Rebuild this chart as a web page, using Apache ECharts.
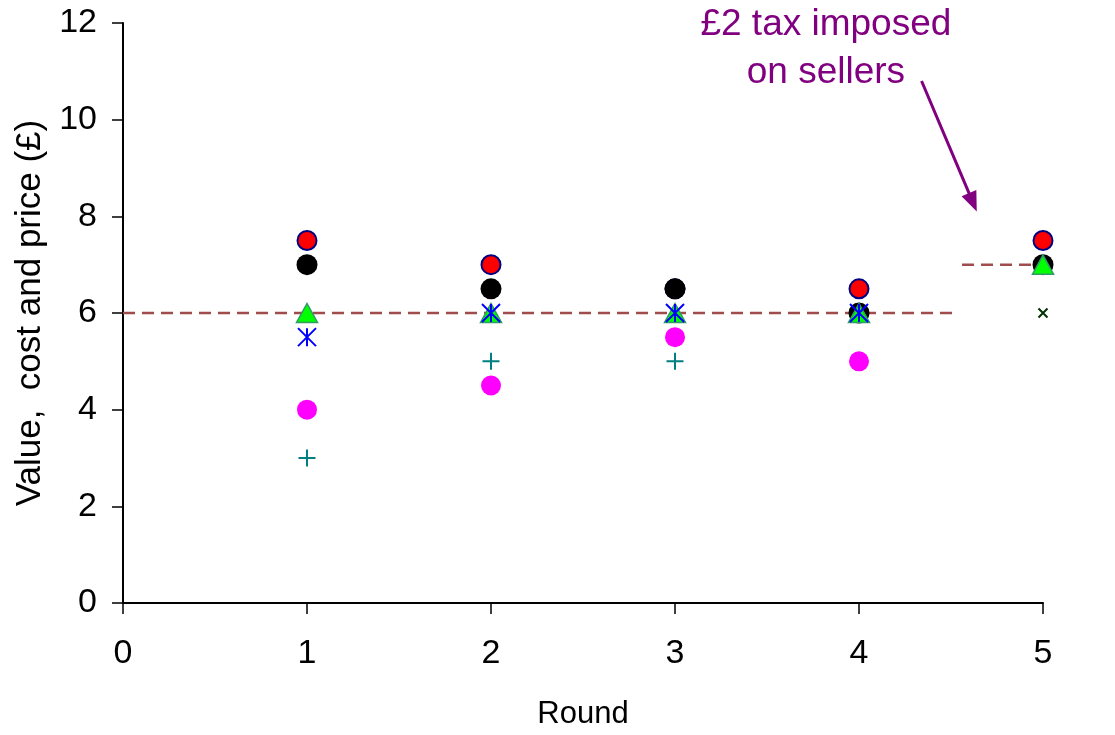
<!DOCTYPE html>
<html>
<head>
<meta charset="utf-8">
<script src="https://cdn.jsdelivr.net/npm/echarts@6/dist/echarts.min.js"></script>
<style>html,body{margin:0;padding:0;background:#fff;}#chart{width:1115px;height:735px;}</style>
</head>
<body>
<div id="chart"></div>
<script>
var rounds = [1, 2, 3, 4, 5];
var redValues = [7.5, 7.0, 6.5, 6.5, 7.5];
var blackValues = [7.0, 6.5, 6.5, 6.0, 7.0];
var magentaValues = [4.0, 4.5, 5.5, 5.0, null];
var triangleValues = [6.0, 6.0, 6.0, 6.0, 7.0];
var starValues = [5.5, 6.0, 6.0, 6.0, null];
var plusValues = [3.0, 5.0, 5.0, null, null];
var crossValues = [null, null, null, null, 6.0];
var priceLine1 = [[0, 6], [4.52, 6]];
var priceLine2 = [[4.56, 7], [5.34, 7]];
var arrowFrom = [4.34, 10.8];
var arrowTo = [4.64, 8.1];
var noteAt = [3.82, 12.45];
var noteText = '£2 tax imposed\non sellers';
var yTicks = [0, 2, 4, 6, 8, 10, 12];

function pts(vals) {
  return rounds.map(function (r, i) { return vals[i] == null ? null : [r, vals[i]]; }).filter(Boolean);
}
var FONT = 'Liberation Sans, Arial, sans-serif';
var chart = echarts.init(document.getElementById('chart'));
var option = {
  animation: false,
  grid: { left: 123, right: 72, top: 23, bottom: 129 },
  xAxis: {
    type: 'value', min: 0, max: 5, interval: 1,
    name: 'Round', nameLocation: 'middle', nameGap: 96,
    nameTextStyle: { fontFamily: FONT, fontSize: 31, color: '#000' },
    axisLine: { show: true, lineStyle: { color: '#000', width: 2 } },
    axisTick: { show: true, length: 11, lineStyle: { color: '#000', width: 1.5 } },
    axisLabel: { fontFamily: FONT, fontSize: 34, color: '#000', margin: 34 },
    splitLine: { show: false }
  },
  yAxis: {
    type: 'value', min: 0, max: 12, interval: 2,
    name: 'Value,  cost and price (£)', nameLocation: 'middle', nameGap: 72, nameRotate: 90,
    nameTextStyle: { fontFamily: FONT, fontSize: 35, color: '#000' },
    axisLine: { show: true, lineStyle: { color: '#000', width: 2 } },
    axisTick: { show: true, length: 11, lineStyle: { color: '#000', width: 1.5 } },
    axisLabel: { fontFamily: FONT, fontSize: 34, color: '#000', margin: 26,
      formatter: function (v) { return yTicks.indexOf(v) >= 0 ? String(v) : ''; } },
    splitLine: { show: false }
  },
  series: [
    { type: 'line', data: priceLine1, symbol: 'none', lineStyle: { color: '#A04C4C', width: 2.5, type: [12, 7] }, z: 1 },
    { type: 'line', data: priceLine2, symbol: 'none', clip: false, lineStyle: { color: '#A04C4C', width: 2.5, type: [12, 7] }, z: 1 },
    { type: 'scatter', data: pts(redValues), symbol: 'circle', symbolSize: 19,
      itemStyle: { color: '#FF0000', borderColor: '#000080', borderWidth: 2, opacity: 1 }, z: 2 },
    { type: 'scatter', data: pts(blackValues), symbol: 'circle', symbolSize: 21,
      itemStyle: { color: '#000000', opacity: 1 }, z: 3 },
    { type: 'scatter', data: pts(magentaValues), symbol: 'circle', symbolSize: 20,
      itemStyle: { color: '#FF00FF', opacity: 1 }, z: 3 },
    { type: 'scatter', data: pts(triangleValues), symbol: 'triangle', symbolSize: [21, 19],
      itemStyle: { color: '#00FF00', borderColor: '#339966', borderWidth: 1.5, opacity: 1 }, z: 4 },
    { type: 'scatter', data: pts(starValues), symbol: 'path://M0,0L10,10M10,0L0,10M5,0L5,10', symbolSize: 18,
      itemStyle: { color: 'none', borderColor: '#0000FF', borderWidth: 2, opacity: 1 }, z: 5 },
    { type: 'scatter', data: pts(plusValues), symbol: 'path://M0,5L10,5M5,0L5,10', symbolSize: 17,
      itemStyle: { color: 'none', borderColor: '#008080', borderWidth: 2, opacity: 1 }, z: 5 },
    { type: 'scatter', data: pts(crossValues), symbol: 'path://M0,0L10,10M10,0L0,10', symbolSize: 9,
      itemStyle: { color: 'none', borderColor: '#003300', borderWidth: 2, opacity: 1 }, z: 5 }
  ]
};
chart.setOption(option);

var a = chart.convertToPixel({ gridIndex: 0 }, arrowFrom);
var b = chart.convertToPixel({ gridIndex: 0 }, arrowTo);
var n = chart.convertToPixel({ gridIndex: 0 }, noteAt);
var dx = b[0] - a[0], dy = b[1] - a[1];
var len = Math.sqrt(dx * dx + dy * dy);
var ux = dx / len, uy = dy / len;
var headLen = 20, headW = 8;
var baseX = b[0] - ux * headLen, baseY = b[1] - uy * headLen;
chart.setOption({
  graphic: [
    { type: 'line', shape: { x1: a[0], y1: a[1], x2: baseX + ux * 2, y2: baseY + uy * 2 },
      style: { stroke: '#800080', lineWidth: 3 }, z: 10 },
    { type: 'polygon', shape: { points: [[b[0], b[1]], [baseX - uy * headW, baseY + ux * headW], [baseX + uy * headW, baseY - ux * headW]] },
      style: { fill: '#800080' }, z: 10 },
    { type: 'text', x: n[0], y: n[1],
      style: { text: noteText, fill: '#800080', font: '37px ' + FONT, textAlign: 'center', textVerticalAlign: 'top', lineHeight: 48 }, z: 10 }
  ]
});
</script>
</body>
</html>
